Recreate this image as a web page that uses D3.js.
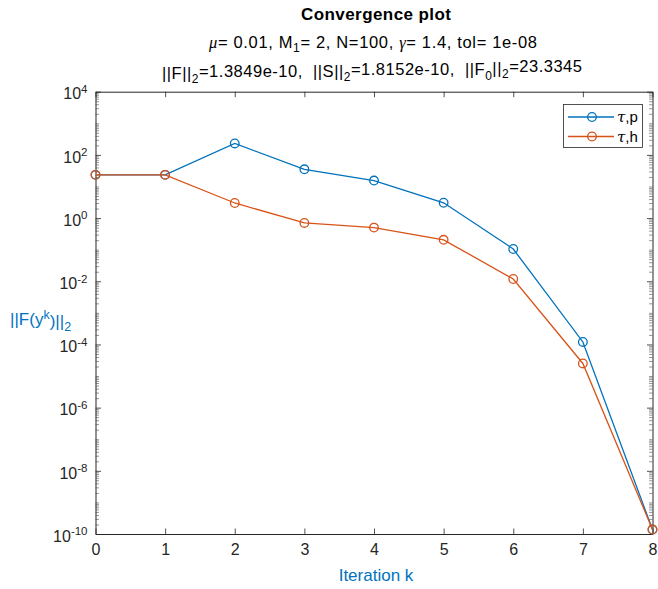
<!DOCTYPE html>
<html>
<head>
<meta charset="utf-8">
<script src="https://cdn.jsdelivr.net/npm/d3@7"></script>
<style>
  html, body { margin: 0; padding: 0; background: #fff; }
  svg { display: block; font-family: "Liberation Sans", Arial, Helvetica, sans-serif; }
  .pre { white-space: pre; }
</style>
</head>
<body>
<svg id="chart" width="658" height="589"></svg>
<script>
// Iteration index
const iterations = [0, 1, 2, 3, 4, 5, 6, 7, 8];
// Residual norm ||F(y^k)||_2 for each strategy
const tauP = [23.3345, 23.3345, 230, 35, 15.4, 3.05, 0.105, 1.2e-4, 1.3849e-10];
const tauH = [23.3345, 23.3345, 3.0, 0.70, 0.50, 0.205, 0.0118, 2.5e-5, 1.3849e-10];
const seriesNames = ["\u03C4,p", "\u03C4,h"];
const seriesColors = ["#0072BD", "#D95319"];
// Axis ticks
const xTicks = [0, 1, 2, 3, 4, 5, 6, 7, 8];
const yTickExponents = [-10, -8, -6, -4, -2, 0, 2, 4];

const svg = d3.select("#chart");
const axisColor = "#262626";
const plotL = 95.5, plotR = 652.5, plotT = 91.7, plotB = 534;

const x = d3.scaleLinear().domain([0, 8]).range([plotL, plotR]);
const y = d3.scaleLog().domain([1e-10, 1e4]).range([plotB, plotT]);

// Minor tick values on the log axis
const minorVals = [];
for (let e = -10; e < 4; e++) {
  for (let m = 1; m <= 9; m++) {
    if (m === 1 && e % 2 === 0) continue;
    minorVals.push(m * Math.pow(10, e));
  }
}
const majorVals = yTickExponents.map(e => Math.pow(10, e));

function styleAxis(g) {
  g.select(".domain").attr("stroke", axisColor).attr("stroke-width", 1);
  g.selectAll(".tick line").attr("stroke", axisColor).attr("stroke-width", 0.8);
  g.selectAll(".tick text").attr("fill", axisColor);
}
function styleMinor(g) {
  g.select(".domain").remove();
  g.selectAll(".tick line").attr("stroke", "#6b6b6b").attr("stroke-width", 0.7);
}

// Minor ticks on both sides
svg.append("g").attr("transform", `translate(${plotL},0)`)
  .call(d3.axisLeft(y).tickValues(minorVals).tickSize(-3.5).tickSizeOuter(0).tickFormat(""))
  .call(styleMinor);
svg.append("g").attr("transform", `translate(${plotR},0)`)
  .call(d3.axisRight(y).tickValues(minorVals).tickSize(-3.5).tickSizeOuter(0).tickFormat(""))
  .call(styleMinor);

// Left major axis with 10^n labels
const yAxisG = svg.append("g").attr("transform", `translate(${plotL},0)`)
  .call(d3.axisLeft(y).tickValues(majorVals).tickSize(-5.5).tickSizeOuter(0).tickPadding(8).tickFormat(""))
  .call(styleAxis);
yAxisG.selectAll(".tick text")
  .attr("font-size", 16)
  .attr("dy", "0.45em")
  .each(function(d) {
    const t = d3.select(this);
    const e = Math.round(Math.log10(d));
    t.text(null);
    t.append("tspan").text("10");
    t.append("tspan").attr("dy", "-0.55em").attr("font-size", 11.5).text(String(e));
  });

// Right major ticks
svg.append("g").attr("transform", `translate(${plotR},0)`)
  .call(d3.axisRight(y).tickValues(majorVals).tickSize(-5.5).tickSizeOuter(0).tickFormat(""))
  .call(styleAxis);

// Bottom axis
svg.append("g").attr("transform", `translate(0,${plotB})`)
  .call(d3.axisBottom(x).tickValues(xTicks).tickSize(-5.5).tickSizeOuter(0).tickPadding(10).tickFormat(d3.format("d")))
  .call(styleAxis)
  .call(g => g.selectAll(".tick text").attr("font-size", 16));
// Top axis
svg.append("g").attr("transform", `translate(0,${plotT})`)
  .call(d3.axisTop(x).tickValues(xTicks).tickSize(-5.5).tickSizeOuter(0).tickFormat(""))
  .call(styleAxis);

// Data lines and markers
const line = d3.line().x((d, i) => x(iterations[i])).y(d => y(d));
[tauP, tauH].forEach((vals, si) => {
  svg.append("path").datum(vals)
    .attr("fill", "none").attr("stroke", seriesColors[si]).attr("stroke-width", 1.3)
    .attr("d", line);
  svg.append("g").selectAll("circle").data(vals).join("circle")
    .attr("cx", (d, i) => x(iterations[i]))
    .attr("cy", d => y(d))
    .attr("r", 4.3)
    .attr("fill", "none").attr("stroke", seriesColors[si]).attr("stroke-width", 1.3);
});

// Legend
const lg = svg.append("g");
lg.append("rect").attr("x", 563.5).attr("y", 104.5).attr("width", 79).attr("height", 43)
  .attr("fill", "#fff").attr("stroke", axisColor).attr("stroke-width", 0.8);
seriesNames.forEach((name, i) => {
  const yy = 117 + i * 19.5;
  lg.append("line").attr("x1", 568).attr("x2", 614).attr("y1", yy).attr("y2", yy)
    .attr("stroke", seriesColors[i]).attr("stroke-width", 1.3);
  lg.append("circle").attr("cx", 592).attr("cy", yy).attr("r", 4.3)
    .attr("fill", "none").attr("stroke", seriesColors[i]).attr("stroke-width", 1.3);
  const t = lg.append("text").attr("x", 617).attr("y", yy + 5).attr("font-size", 15).attr("fill", "#000");
  t.append("tspan").attr("font-style", "italic").attr("font-family", "'DejaVu Serif', 'Liberation Serif', serif").text(name.slice(0, 1));
  t.append("tspan").text(name.slice(1));
});

// Titles
svg.append("text").attr("x", 376).attr("y", 19.5).attr("text-anchor", "middle")
  .attr("font-size", 17).attr("font-weight", "bold").attr("fill", "#000")
  .attr("textLength", 150).attr("lengthAdjust", "spacing")
  .text("Convergence plot");

const t2 = svg.append("text").attr("x", 373).attr("y", 48).attr("text-anchor", "middle")
  .attr("font-size", 16.5).attr("fill", "#000")
  .attr("textLength", 328).attr("lengthAdjust", "spacing");
t2.append("tspan").attr("font-style", "italic").attr("font-family", "'Liberation Serif', serif").text("\u03BC");
t2.append("tspan").text("= 0.01, M");
t2.append("tspan").attr("dy", "0.35em").attr("font-size", 12).text("1");
t2.append("tspan").attr("dy", "-0.26em").text("= 2, N=100, ");
t2.append("tspan").attr("font-style", "italic").attr("font-family", "'Liberation Serif', serif").text("\u03B3");
t2.append("tspan").text("= 1.4, tol= 1e-08");

const t3 = svg.append("text").attr("class", "pre").attr("x", 372).attr("y", 78.5).attr("text-anchor", "middle")
  .attr("font-size", 16.5).attr("fill", "#000")
  .attr("textLength", 420).attr("lengthAdjust", "spacing");
const parts3 = [
  ["||F||", false], ["2", true], ["=1.3849e-10,  ||S||", false], ["2", true],
  ["=1.8152e-10,  ||F", false], ["0", true], ["||", false], ["2", true], ["=23.3345", false]
];
let sub = false;
parts3.forEach(([s, isSub]) => {
  const ts = t3.append("tspan").text(s);
  if (isSub && !sub) { ts.attr("dy", "0.35em").attr("font-size", 12); sub = true; }
  else if (isSub && sub) { ts.attr("font-size", 12); }
  else if (!isSub && sub) { ts.attr("dy", "-0.35em"); sub = false; }
});

// Axis labels
svg.append("text").attr("x", 376).attr("y", 581).attr("text-anchor", "middle")
  .attr("font-size", 17).attr("fill", "#0072BD").text("Iteration k");

const yl = svg.append("text").attr("x", 10).attr("y", 325).attr("font-size", 17).attr("fill", "#0072BD");
yl.append("tspan").text("||F(y");
yl.append("tspan").attr("dy", "-0.45em").attr("font-size", 12.5).text("k");
yl.append("tspan").attr("dy", "0.45em").text(")||");
yl.append("tspan").attr("dy", "0.35em").attr("font-size", 12.5).text("2");
</script>
</body>
</html>
